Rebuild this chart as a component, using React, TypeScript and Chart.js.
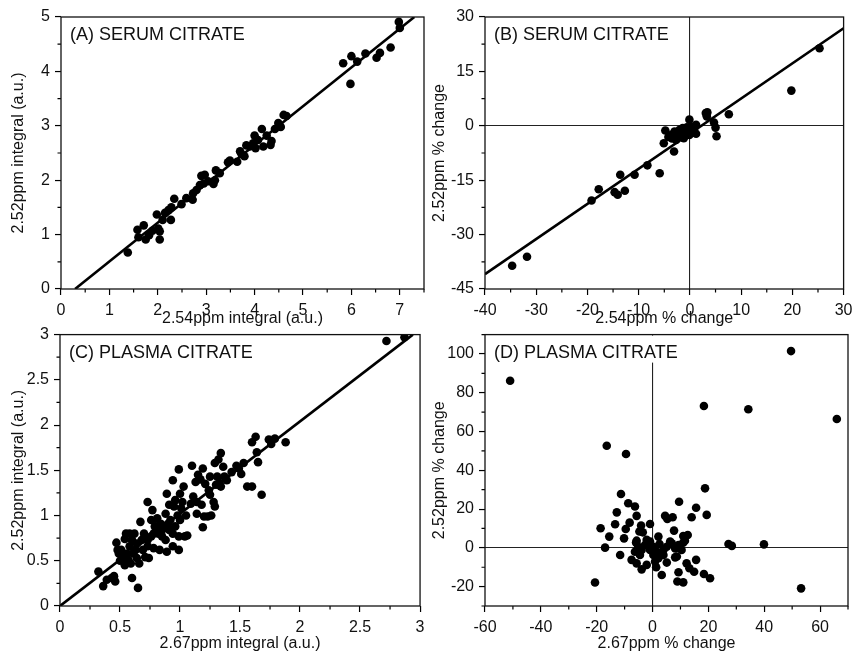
import React, { useEffect, useRef } from 'react';
import { Chart, registerables } from 'chart.js';

Chart.register(...registerables);

// ---------- Panel A: serum citrate integrals ----------
const aX = [
  1.38, 1.58, 1.60, 1.71, 1.75, 1.82, 1.89, 1.98, 2.01, 2.04,
  2.04, 2.10, 2.15, 2.22, 2.27, 2.28, 2.34, 2.49, 2.59, 2.72,
  2.73, 2.80, 2.87, 2.90, 2.95, 2.97, 3.04, 3.15, 3.18, 3.20,
  3.28, 3.45, 3.49, 3.64, 3.70, 3.73, 3.79, 3.83, 3.90, 3.97,
  4.00, 4.02, 4.07, 4.15, 4.18, 4.25, 4.33, 4.35, 4.42, 4.49,
  4.54, 4.60, 4.66, 5.83, 5.98, 6.00, 6.12, 6.29, 6.52, 6.59,
  6.81, 6.98, 7.00,
];
const aY = [
  0.67, 1.09, 0.95, 1.17, 0.91, 0.99, 1.07, 1.37, 1.11, 0.91,
  1.06, 1.27, 1.40, 1.45, 1.27, 1.50, 1.66, 1.56, 1.67, 1.64,
  1.76, 1.82, 1.91, 2.08, 1.94, 2.10, 1.98, 1.93, 2.00, 2.18,
  2.13, 2.33, 2.36, 2.34, 2.53, 2.48, 2.44, 2.64, 2.62, 2.68,
  2.82, 2.59, 2.74, 2.94, 2.62, 2.82, 2.65, 2.72, 2.94, 3.05,
  2.98, 3.20, 3.18, 4.15, 3.77, 4.28, 4.18, 4.33, 4.25, 4.34,
  4.44, 4.91, 4.80,
];
const aFitX = [0.29, 7.3];
const aFitY = [0, 5];

// ---------- Panel B: serum citrate % change ----------
const bX = [
  -34.7, -31.8, -19.2, -17.8, -14.7, -14.1, -13.6, -12.7, -10.8, -8.3,
  -5.9, -5.1, -4.8, -4.2, -3.6, -3.1, -3.0, -2.7, -2.4, -2.0,
  -1.7, -1.4, -1.2, -0.9, -0.4, -0.1, -0.1, 0.2, 0.3, 1.2,
  1.2, 3.1, 3.4, 3.3, 4.7, 5.0, 5.2, 7.6, 19.8, 25.3,
  -3.5, -1.0, -2.2, 0.8, -0.6,
];
const bY = [
  -38.6, -36.1, -20.6, -17.5, -18.3, -19.0, -13.5, -17.9, -13.5, -10.9,
  -13.1, -4.8, -1.3, -3.1, -2.5, -7.1, -1.6, -3.9, -2.2, -1.1,
  -2.9, -0.6, -3.4, -1.8, -1.3, 1.7, -2.5, -0.2, -2.0, 0.3,
  -2.2, 3.5, 3.7, 2.6, 0.9, -0.5, -2.9, 3.2, 9.7, 21.4,
  -3.5, -2.8, -1.5, -1.0, -0.4,
];
const bFitX = [-40, 30];
const bFitY = [-40.9, 26.9];

// ---------- Panel C: plasma citrate integrals ----------
const cX = [
  0.32, 0.36, 0.39, 0.43, 0.45, 0.46, 0.47, 0.48, 0.49, 0.50,
  0.52, 0.54, 0.55, 0.56, 0.58, 0.58, 0.59, 0.60, 0.60, 0.62,
  0.63, 0.64, 0.65, 0.66, 0.67, 0.68, 0.69, 0.70, 0.71, 0.73,
  0.73, 0.74, 0.76, 0.76, 0.77, 0.78, 0.78, 0.80, 0.81, 0.82,
  0.83, 0.84, 0.85, 0.87, 0.88, 0.88, 0.89, 0.89, 0.91, 0.91,
  0.92, 0.94, 0.94, 0.95, 0.96, 0.96, 0.98, 0.99, 0.99, 0.99,
  1.00, 1.01, 1.02, 1.03, 1.04, 1.05, 1.06, 0.94, 1.10, 1.11,
  1.13, 1.14, 1.14, 1.15, 1.17, 1.18, 1.19, 1.19, 1.20, 1.21,
  1.23, 1.24, 1.25, 1.26, 1.28, 1.29, 1.29, 1.30, 1.32, 1.33,
  1.34, 1.34, 1.36, 1.37, 1.39, 1.47, 1.49, 1.51, 1.53, 1.56,
  1.60, 1.60, 1.63, 1.64, 1.65, 1.68, 1.74, 1.76, 1.79, 1.88,
  2.72, 2.87, 0.54, 0.57, 0.61, 0.64, 0.73, 0.79, 0.85, 0.90,
  1.00, 1.09, 1.25, 1.31, 1.43, 0.55, 0.51,
];
const cY = [
  0.38, 0.22, 0.29, 0.31, 0.33, 0.27, 0.70, 0.62, 0.58, 0.50,
  0.54, 0.74, 0.51, 0.58, 0.80, 0.66, 0.47, 0.31, 0.73, 0.80,
  0.62, 0.53, 0.20, 0.47, 0.93, 0.73, 0.62, 0.80, 0.54, 0.66,
  1.15, 0.53, 0.77, 0.95, 1.06, 0.80, 0.64, 0.88, 0.97, 0.80,
  0.62, 0.91, 0.77, 0.88, 0.73, 1.02, 1.24, 0.60, 0.84, 1.12,
  0.95, 0.66, 0.80, 1.10, 1.17, 0.88, 1.00, 0.77, 1.51, 0.62,
  0.95, 1.08, 1.15, 1.32, 0.77, 1.00, 0.78, 1.39, 1.55, 1.21,
  1.37, 1.15, 1.02, 1.45, 1.40, 1.12, 0.87, 1.52, 0.99, 1.35,
  0.99, 1.28, 1.23, 1.00, 1.15, 1.10, 1.58, 1.34, 1.62, 1.36,
  1.69, 1.32, 1.54, 1.43, 1.39, 1.55, 1.52, 1.46, 1.58, 1.32,
  1.81, 1.32, 1.87, 1.70, 1.59, 1.23, 1.84, 1.79, 1.85, 1.81,
  2.93, 2.97, 0.45, 0.51, 0.58, 0.69, 0.73, 0.88, 0.84, 0.91,
  1.24, 1.13, 1.43, 1.43, 1.48, 0.80, 0.62,
];
const cFitX = [0, 2.94];
const cFitY = [0, 3];

// ---------- Panel D: plasma citrate % change ----------
const dX = [
  -51.0, 49.6, 18.4, 34.3, 66.0, -16.4, -9.5, -11.3, 18.8, -8.7,
  -6.3, -12.8, -5.7, 9.5, 15.6, 19.4, 14.0, 4.5, 5.3, 7.2,
  -13.4, -8.2, -4.1, -0.9, -18.6, -9.6, -4.7, -3.5, -15.5, -10.2,
  -5.7, -2.1, -0.9, 2.1, 7.7, 6.3, 11.0, 12.6, 11.6, -17.0,
  -11.6, -7.5, -5.7, -3.9, -2.1, 1.3, 3.3, 5.1, 8.1, 9.3,
  12.2, 13.2, 14.9, 15.6, 18.4, 20.6, 8.9, 11.0, -20.6, 53.2,
  27.2, 28.4, 39.9, -5.1, -3.9, -2.7, -0.9, 0.3, 1.5, 2.5,
  2.7, 3.9, 5.1, 6.9, 8.1, 9.3, 10.4, 11.0, -4.5, 0.3,
  2.1, -6.3, 8.7, 0.9, -5.9, -1.5, 3.9,
];
const dY = [
  86.2, 101.5, 73.2, 71.5, 66.5, 52.7, 48.4, 27.8, 30.7, 23.0,
  21.3, 18.3, 16.5, 23.8, 20.7, 17.0, 15.8, 16.5, 14.9, 15.8,
  12.2, 13.0, 11.5, 12.3, 10.1, 9.7, 8.4, 8.0, 5.8, 4.9,
  3.7, 4.1, 3.2, 5.8, 8.9, 3.2, 6.1, 6.6, 3.7, 0.1,
  -3.7, -6.2, -8.0, -11.1, -8.8, -10.0, -14.0, -7.6, -4.9, -12.6,
  -8.0, -10.5, -12.3, -6.2, -13.5, -15.7, -17.4, -17.8, -17.9, -20.9,
  2.0, 1.0, 1.8, 0.6, -1.1, 1.5, -1.1, 0.6, -2.0, 2.0,
  -2.9, -1.1, 0.6, 2.3, -0.3, 1.4, -1.1, 2.7, -3.7, -3.7,
  -5.4, -2.0, -4.5, -7.1, 2.7, 2.7, -3.7,
];

const FONT = '"Liberation Sans", Arial, Helvetica, sans-serif';

type Panel = {
  key: string;
  label: string;
  xTitle: string;
  yTitle: string;
  xs: number[];
  ys: number[];
  fitX?: number[];
  fitY?: number[];
  xMin: number; xMax: number; xStep: number; xMajor: number;
  yMin: number; yMax: number; yStep: number; yMajor: number;
  zero: boolean;
  labelBox: boolean;
  left: number; top: number; width: number; height: number;
  padTop: number; padRight: number;
  yWidth: number; xHeight: number;
  xTitlePad: number; yTitlePad: number;
};

const panels: Panel[] = [
  {
    key: 'A', label: '(A) SERUM CITRATE',
    xTitle: '2.54ppm integral (a.u.)', yTitle: '2.52ppm integral (a.u.)',
    xs: aX, ys: aY, fitX: aFitX, fitY: aFitY,
    xMin: 0, xMax: 7.5, xStep: 0.5, xMajor: 1,
    yMin: 0, yMax: 5, yStep: 0.5, yMajor: 1,
    zero: false, labelBox: false,
    left: 0, top: 0, width: 430, height: 330,
    padTop: 17, padRight: 6, yWidth: 61, xHeight: 41, xTitlePad: 1.4, yTitlePad: 9,
  },
  {
    key: 'B', label: '(B) SERUM CITRATE',
    xTitle: '2.54ppm % change', yTitle: '2.52ppm % change',
    xs: bX, ys: bY, fitX: bFitX, fitY: bFitY,
    xMin: -40, xMax: 30, xStep: 5, xMajor: 10,
    yMin: -45, yMax: 30, yStep: 7.5, yMajor: 15,
    zero: true, labelBox: false,
    left: 430, top: 0, width: 428, height: 330,
    padTop: 17, padRight: 10, yWidth: 55, xHeight: 41, xTitlePad: 1.4, yTitlePad: 0,
  },
  {
    key: 'C', label: '(C) PLASMA CITRATE',
    xTitle: '2.67ppm integral (a.u.)', yTitle: '2.52ppm integral (a.u.)',
    xs: cX, ys: cY, fitX: cFitX, fitY: cFitY,
    xMin: 0, xMax: 3, xStep: 0.25, xMajor: 0.5,
    yMin: 0, yMax: 3, yStep: 0.25, yMajor: 0.5,
    zero: false, labelBox: false,
    left: 0, top: 320, width: 430, height: 332,
    padTop: 14, padRight: 7, yWidth: 60, xHeight: 46, xTitlePad: -1.6, yTitlePad: 9,
  },
  {
    key: 'D', label: '(D) PLASMA CITRATE',
    xTitle: '2.67ppm % change', yTitle: '2.52ppm % change',
    xs: dX, ys: dY,
    xMin: -60, xMax: 70, xStep: 10, xMajor: 20,
    yMin: -30, yMax: 110, yStep: 10, yMajor: 20,
    zero: true, labelBox: true,
    left: 430, top: 320, width: 428, height: 332,
    padTop: 14, padRight: 10, yWidth: 55, xHeight: 46, xTitlePad: -1.6, yTitlePad: 0,
  },
];

const isMajor = (v: number, m: number) => Math.abs(v / m - Math.round(v / m)) < 1e-6;
const fmt = (v: number) => String(Math.round(v * 1000) / 1000);

function PanelChart({ p }: { p: Panel }) {
  const ref = useRef<HTMLCanvasElement | null>(null);
  useEffect(() => {
    if (!ref.current) return;
    const framePlugin = {
      id: 'frame' + p.key,
      afterDraw(chart: any) {
        const { ctx, chartArea: ca } = chart;
        const xs = chart.scales.x;
        const ys = chart.scales.y;
        ctx.save();
        ctx.strokeStyle = '#000';
        ctx.lineWidth = 1.2;
        ctx.beginPath();
        xs.ticks.forEach((t: any) => {
          if (!isMajor(t.value, p.xMajor)) {
            const px = xs.getPixelForValue(t.value);
            ctx.moveTo(px, ca.bottom);
            ctx.lineTo(px, ca.bottom + 3.5);
          }
        });
        ys.ticks.forEach((t: any) => {
          if (!isMajor(t.value, p.yMajor)) {
            const py = ys.getPixelForValue(t.value);
            ctx.moveTo(ca.left, py);
            ctx.lineTo(ca.left - 3.5, py);
          }
        });
        ctx.stroke();
        ctx.font = '18px ' + FONT;
        ctx.textBaseline = 'alphabetic';
        ctx.textAlign = 'left';
        if (p.labelBox) {
          const w = ctx.measureText(p.label).width;
          ctx.fillStyle = '#fff';
          ctx.fillRect(ca.left + 2, ca.top + 1, w + 14, 27);
        }
        ctx.fillStyle = '#111';
        ctx.fillText(p.label, ca.left + 9, ca.top + 23);
        ctx.lineWidth = 1.3;
        ctx.strokeStyle = '#111';
        ctx.strokeRect(ca.left, ca.top, ca.right - ca.left, ca.bottom - ca.top);
        ctx.restore();
      },
    };

    const points = p.xs.map((x, i) => ({ x, y: p.ys[i] }));
    const datasets: any[] = [
      {
        data: points,
        pointRadius: 4.3,
        pointBackgroundColor: '#000',
        pointBorderColor: '#000',
        pointBorderWidth: 0,
        showLine: false,
      },
    ];
    if (p.fitX && p.fitY) {
      datasets.push({
        data: p.fitX.map((x, i) => ({ x, y: p.fitY![i] })),
        showLine: true,
        pointRadius: 0,
        borderColor: '#000',
        borderWidth: 2.6,
        clip: 0,
      });
    }

    const gridCfg = (major: number) => ({
      display: true,
      drawOnChartArea: p.zero,
      drawTicks: true,
      tickLength: 6,
      lineWidth: 1.1,
      tickWidth: 1.2,
      color: (c: any) => (c.tick && Math.abs(c.tick.value) < 1e-9 ? '#222' : 'rgba(0,0,0,0)'),
      tickColor: (c: any) => (c.tick && isMajor(c.tick.value, major) ? '#000' : 'rgba(0,0,0,0)'),
    });

    const chart = new Chart(ref.current, {
      type: 'scatter',
      data: { datasets },
      plugins: [framePlugin as any],
      options: {
        animation: false,
        responsive: false,
        maintainAspectRatio: false,
        events: [],
        layout: { padding: { top: p.padTop, right: p.padRight, left: 0, bottom: 0 } },
        plugins: { legend: { display: false }, tooltip: { enabled: false } },
        scales: {
          x: {
            type: 'linear',
            min: p.xMin,
            max: p.xMax,
            border: { display: false },
            grid: gridCfg(p.xMajor) as any,
            afterFit: (s: any) => { s.height = p.xHeight; },
            ticks: {
              stepSize: p.xStep,
              autoSkip: false,
              maxRotation: 0,
              padding: 5.5,
              color: '#111',
              font: { size: 16, family: FONT },
              callback: (v: any) => (isMajor(Number(v), p.xMajor) ? fmt(Number(v)) : ''),
            },
            title: {
              display: true,
              text: p.xTitle,
              color: '#111',
              font: { size: 16, family: FONT },
              padding: { top: 0, bottom: p.xTitlePad },
            },
          },
          y: {
            type: 'linear',
            min: p.yMin,
            max: p.yMax,
            border: { display: false },
            grid: gridCfg(p.yMajor) as any,
            afterFit: (s: any) => { s.width = p.yWidth; },
            ticks: {
              stepSize: p.yStep,
              autoSkip: false,
              padding: 5,
              color: '#111',
              font: { size: 16, family: FONT },
              callback: (v: any) => (isMajor(Number(v), p.yMajor) ? fmt(Number(v)) : ''),
            },
            title: {
              display: true,
              text: p.yTitle,
              color: '#111',
              font: { size: 16, family: FONT },
              padding: { top: p.yTitlePad, bottom: 0 },
            },
          },
        },
      } as any,
    });
    return () => chart.destroy();
  }, [p]);

  return (
    <canvas
      ref={ref}
      width={p.width}
      height={p.height}
      style={{ position: 'absolute', left: p.left, top: p.top, width: p.width, height: p.height }}
    />
  );
}

export default function App() {
  return (
    <div style={{ position: 'absolute', left: 0, top: 0, width: 858, height: 652, background: '#fff', overflow: 'hidden' }}>
      {panels.map((p) => (
        <PanelChart key={p.key} p={p} />
      ))}
    </div>
  );
}
